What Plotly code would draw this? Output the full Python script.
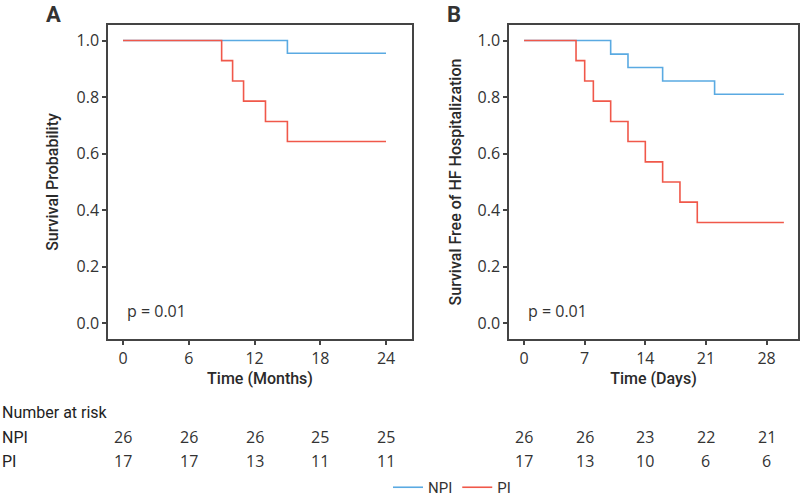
import plotly.graph_objects as go

# Panel A: overall survival (months)
a_npi_t = [0, 15, 24]
a_npi_s = [1.0, 0.955, 0.955]
a_pi_t = [0, 9, 10, 11, 13, 15, 24]
a_pi_s = [1.0, 0.929, 0.857, 0.786, 0.714, 0.643, 0.643]

# Panel B: freedom from HF hospitalization (days)
b_npi_t = [0, 10, 12, 16, 22, 30]
b_npi_s = [1.0, 0.952, 0.905, 0.857, 0.810, 0.810]
b_pi_t = [0, 6, 7, 8, 10, 12, 14, 16, 18, 20, 30]
b_pi_s = [1.0, 0.929, 0.857, 0.786, 0.714, 0.643, 0.571, 0.500, 0.429, 0.357, 0.357]

a_ticks = [0, 6, 12, 18, 24]
b_ticks = [0, 7, 14, 21, 28]
a_risk_npi = [26, 26, 26, 25, 25]
a_risk_pi = [17, 17, 13, 11, 11]
b_risk_npi = [26, 26, 23, 22, 21]
b_risk_pi = [17, 13, 10, 6, 6]

BLUE = "#5AAAE2"
RED = "#F0584A"
AX = "#444444"
FONT = "Open Sans"
TFONT = "Roboto"

fig = go.Figure()

# KM steps: horizontal first, then drop at event time
fig.add_trace(go.Scatter(x=a_npi_t, y=a_npi_s, mode="lines", line=dict(color=BLUE, width=1.6, shape="hv"),
                         name="NPI", legendgroup="NPI", xaxis="x", yaxis="y"))
fig.add_trace(go.Scatter(x=a_pi_t, y=a_pi_s, mode="lines", line=dict(color=RED, width=1.6, shape="hv"),
                         name="PI", legendgroup="PI", xaxis="x", yaxis="y"))
fig.add_trace(go.Scatter(x=b_npi_t, y=b_npi_s, mode="lines", line=dict(color=BLUE, width=1.6, shape="hv"),
                         name="NPI", legendgroup="NPI", showlegend=False, xaxis="x2", yaxis="y2"))
fig.add_trace(go.Scatter(x=b_pi_t, y=b_pi_s, mode="lines", line=dict(color=RED, width=1.6, shape="hv"),
                         name="PI", legendgroup="PI", showlegend=False, xaxis="x2", yaxis="y2"))

W, H = 800, 504
ydom = [1 - 339 / H, 1 - 25 / H]

axis_common = dict(showline=True, linecolor=AX, linewidth=1.5, mirror=True, ticks="outside",
                   ticklen=4, tickcolor=AX, tickwidth=1.5, showgrid=False, zeroline=False,
                   automargin=False, tickfont=dict(family=FONT, size=16, color="#333333"))
title_font = dict(family=TFONT, size=16, color="#2a2a2a", weight=500)

fig.update_layout(
    width=W, height=H,
    margin=dict(l=0, r=0, t=0, b=0),
    plot_bgcolor="white", paper_bgcolor="white",
    font=dict(family=FONT, color="#333333"),
    xaxis=dict(domain=[108 / W, 412 / W], range=[-1.37, 26.37], tickvals=a_ticks, anchor="y",
               title=dict(text="Time (Months)", font=title_font, standoff=4), **axis_common),
    yaxis=dict(domain=ydom, range=[-0.055, 1.055], tickvals=[0, 0.2, 0.4, 0.6, 0.8, 1.0],
               tickformat=".1f", anchor="x",
               title=dict(text="Survival Probability", font=title_font, standoff=14),
               **axis_common),
    xaxis2=dict(domain=[509 / W, 798 / W], range=[-1.74, 31.63], tickvals=b_ticks, anchor="y2",
                title=dict(text="Time (Days)", font=title_font, standoff=4), **axis_common),
    yaxis2=dict(domain=ydom, range=[-0.055, 1.055], tickvals=[0, 0.2, 0.4, 0.6, 0.8, 1.0],
                tickformat=".1f", anchor="x2",
                title=dict(text="Survival Free of HF Hospitalization", font=title_font, standoff=12),
                **axis_common),
    legend=dict(orientation="h", x=0.565, xanchor="center", y=0, yanchor="bottom",
                font=dict(family=TFONT, size=15, color="#333333"), itemwidth=30, tracegroupgap=0),
)

ann = []
# panel letters
ann.append(dict(text="<b>A</b>", x=44 / W, y=1 - 14 / H, xref="paper", yref="paper", showarrow=False,
                xanchor="left", yanchor="middle", font=dict(family=TFONT, size=22, color="#333333")))
ann.append(dict(text="<b>B</b>", x=445 / W, y=1 - 14 / H, xref="paper", yref="paper", showarrow=False,
                xanchor="left", yanchor="middle", font=dict(family=TFONT, size=22, color="#333333")))
# p-values
ann.append(dict(text="p = 0.01", x=0.2, y=0.045, xref="x", yref="y", showarrow=False,
                xanchor="left", yanchor="middle", font=dict(size=16, color="#333333")))
ann.append(dict(text="p = 0.01", x=0.2, y=0.045, xref="x2", yref="y2", showarrow=False,
                xanchor="left", yanchor="middle", font=dict(size=16, color="#333333")))
# risk table
ann.append(dict(text="Number at risk", x=0, y=1 - 412 / H, xref="paper", yref="paper", showarrow=False,
                xanchor="left", yanchor="middle", font=dict(family=TFONT, size=16, color="#222222")))
for lab, yy in [("NPI", 437), ("PI", 461)]:
    ann.append(dict(text=lab, x=0, y=1 - yy / H, xref="paper", yref="paper", showarrow=False,
                    xanchor="left", yanchor="middle", font=dict(family=TFONT, size=16, color="#222222")))
for ticks, npi, pi, xr in [(a_ticks, a_risk_npi, a_risk_pi, "x"), (b_ticks, b_risk_npi, b_risk_pi, "x2")]:
    for t, n1, n2 in zip(ticks, npi, pi):
        ann.append(dict(text=str(n1), x=t, y=1 - 437 / H, xref=xr, yref="paper", showarrow=False,
                        xanchor="center", yanchor="middle", font=dict(size=16, color="#333333")))
        ann.append(dict(text=str(n2), x=t, y=1 - 461 / H, xref=xr, yref="paper", showarrow=False,
                        xanchor="center", yanchor="middle", font=dict(size=16, color="#333333")))
fig.update_layout(annotations=ann)

# the page's default body margin would shift the 800x504 figure, so drop it
fig.write_html("out.html", config={"displayModeBar": False},
               post_script="document.body.style.margin='0px';")
